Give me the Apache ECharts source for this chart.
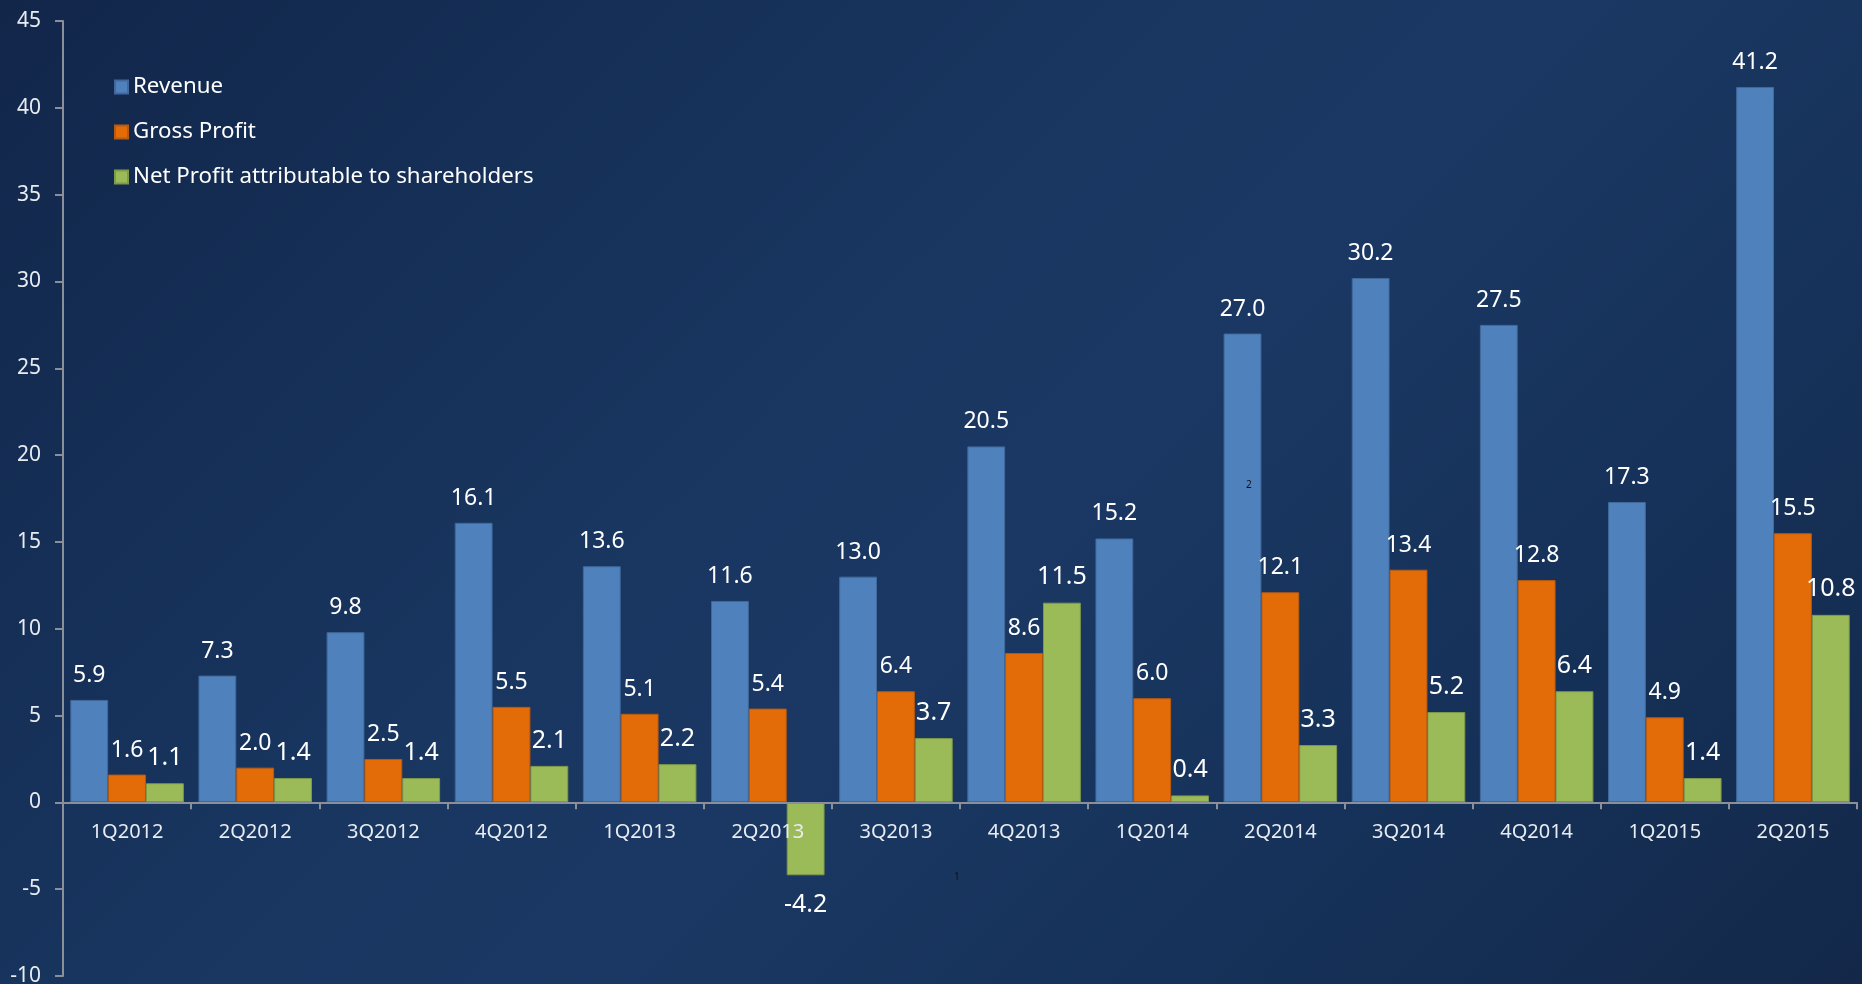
<!DOCTYPE html>
<html>
<head>
<meta charset="utf-8">
<script src="https://cdn.jsdelivr.net/npm/echarts@6/dist/echarts.min.js"></script>
<style>
html,body{margin:0;padding:0;width:1862px;height:984px;overflow:hidden;}
body{background:linear-gradient(135deg,#12264a 0%,#183660 40%,#1a3863 55%,#16325a 75%,#132849 100%);}
#chart{width:1862px;height:984px;}
</style>
</head>
<body>
<div id="chart"></div>
<script>
const categories = ['1Q2012','2Q2012','3Q2012','4Q2012','1Q2013','2Q2013','3Q2013','4Q2013','1Q2014','2Q2014','3Q2014','4Q2014','1Q2015','2Q2015'];
const revenue = [5.9, 7.3, 9.8, 16.1, 13.6, 11.6, 13.0, 20.5, 15.2, 27.0, 30.2, 27.5, 17.3, 41.2];
const grossProfit = [1.6, 2.0, 2.5, 5.5, 5.1, 5.4, 6.4, 8.6, 6.0, 12.1, 13.4, 12.8, 4.9, 15.5];
const netProfit = [1.1, 1.4, 1.4, 2.1, 2.2, -4.2, 3.7, 11.5, 0.4, 3.3, 5.2, 6.4, 1.4, 10.8];
const seriesNames = ['Revenue', 'Gross Profit', 'Net Profit attributable to shareholders'];
const yTicks = {min: -10, max: 45, interval: 5};

const FONT = 'Noto Sans';
const W = 1862, H = 984;
const GRID = {left: 63, right: 5, top: 21, bottom: 8};
// place the category axis on the value-axis zero line
const gridH = H - GRID.top - GRID.bottom;
const zeroOffset = -gridH * (0 - yTicks.min) / (yTicks.max - yTicks.min);

const chart = echarts.init(document.getElementById('chart'), null, {renderer: 'canvas', width: W, height: H});

function barSeries(name, data, color, border, labelSize) {
  return {
    name: name,
    type: 'bar',
    data: data.map(v => v < 0 ? {value: v, label: {distance: 17}} : v),
    barGap: '0%',
    barCategoryGap: '11.4%',
    itemStyle: {color: color, borderColor: border, borderWidth: 1},
    label: {
      show: true,
      position: 'outside',
      distance: 13,
      color: '#ffffff',
      fontFamily: FONT,
      fontSize: labelSize,
      formatter: p => p.value.toFixed(1)
    },
    emphasis: {disabled: true}
  };
}

chart.setOption({
  backgroundColor: 'transparent',
  animation: false,
  textStyle: {fontFamily: FONT},
  legend: {
    orient: 'vertical',
    left: 109,
    top: 71,
    itemWidth: 13,
    itemHeight: 13,
    itemGap: 23,
    icon: 'rect',
    data: seriesNames,
    textStyle: {color: '#ffffff', fontSize: 22.3, fontFamily: FONT}
  },
  grid: {left: GRID.left, right: GRID.right, top: GRID.top, bottom: GRID.bottom, containLabel: false, outerBoundsMode: 'none'},
  xAxis: {
    type: 'category',
    data: categories,
    position: 'bottom',
    offset: zeroOffset,
    z: 5,
    axisLine: {onZero: false, lineStyle: {color: '#8a8f99', width: 2}},
    axisTick: {show: true, length: 7, lineStyle: {color: '#8a8f99', width: 2}},
    axisLabel: {color: '#e8ecf2', fontSize: 20, fontFamily: FONT, margin: 19.5}
  },
  yAxis: {
    type: 'value',
    min: yTicks.min,
    max: yTicks.max,
    interval: yTicks.interval,
    splitLine: {show: false},
    axisLine: {show: true, lineStyle: {color: '#8a8f99', width: 2}},
    axisTick: {show: true, length: 8, lineStyle: {color: '#8a8f99', width: 2}},
    axisLabel: {color: '#e8ecf2', fontSize: 21, fontFamily: FONT, margin: 22}
  },
  series: [
    barSeries(seriesNames[0], revenue, '#4f81bd', '#41699b', 23),
    barSeries(seriesNames[1], grossProfit, '#e36c09', '#b85a10', 23),
    barSeries(seriesNames[2], netProfit, '#9bbb59', '#7f9a4a', 25)
  ],
  graphic: [
    {type: 'text', left: 1246, top: 480, z: 100, silent: true, style: {text: '2', fill: '#111111', fontSize: 10, fontFamily: FONT}},
    {type: 'text', left: 954, top: 872, z: 100, silent: true, style: {text: '1', fill: '#111111', fontSize: 10, fontFamily: FONT}}
  ]
});
</script>
</body>
</html>
